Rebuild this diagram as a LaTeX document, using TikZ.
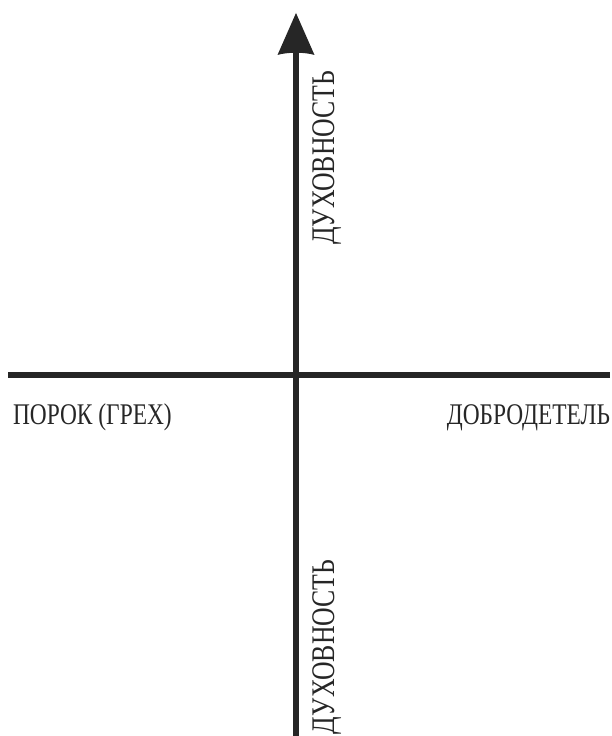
\documentclass[tikz,border=0pt]{standalone}
\usepackage{fontspec}
\setmainfont{Liberation Serif}
\newfontfamily\condfont[FakeStretch=0.78]{Liberation Serif}
\begin{document}
\begin{tikzpicture}[x=1pt,y=1pt,
  lbl/.style={inner sep=0pt,outer sep=0pt,font=\condfont\fontsize{30}{32}\selectfont,text=black!85},
  vlbl/.style={lbl,font=\condfont\fontsize{33}{35}\selectfont,rotate=90},
  axisline/.style={line width=5.5pt,draw=black!85}]
\useasboundingbox (0,0) rectangle (612,736);
\fill[white] (0,0) rectangle (612,736);
% coordinates
\coordinate (hl) at (8,361);
\coordinate (hr) at (610,361);
\coordinate (vb) at (296,-2);
\coordinate (vt) at (296,690);
\coordinate (tip) at (296,723);
% axes
\draw[axisline] (hl) -- (hr);
\draw[axisline] (vb) -- (vt);
% arrowhead
\fill[black!85] (tip) -- (314.5,681) .. controls (305,684) and (287,684) .. (277.5,681) -- cycle;
% labels
\node[lbl,anchor=base west] (vice) at (13,311) {ПОРОК (ГРЕХ)};
\node[lbl,anchor=base east] (virtue) at (610,311) {ДОБРОДЕТЕЛЬ};
\node[vlbl,anchor=base west] (spirtop) at (334,491) {ДУХОВНОСТЬ};
\node[vlbl,anchor=base west] (spirbot) at (334,2) {ДУХОВНОСТЬ};
\end{tikzpicture}
\end{document}
